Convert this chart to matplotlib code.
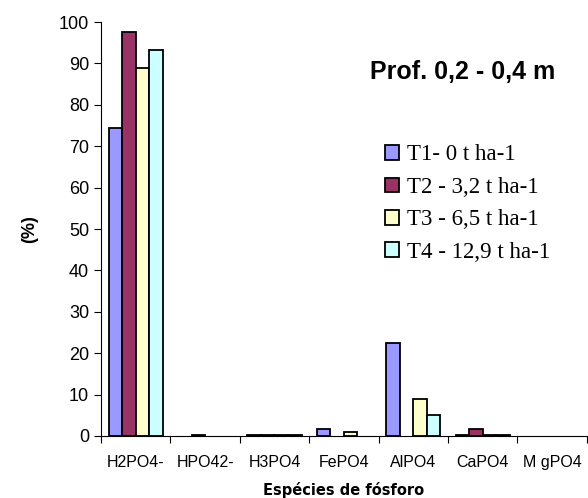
import matplotlib.pyplot as plt
import numpy as np

# species of phosphorus and share (%) for each treatment, depth 0.2 - 0.4 m
especies = ['H2PO4-', 'HPO42-', 'H3PO4', 'FePO4', 'AlPO4', 'CaPO4', 'M gPO4']
tratamentos = ['T1- 0 t ha-1', 'T2 - 3,2 t ha-1', 'T3 - 6,5 t ha-1', 'T4 - 12,9 t ha-1']
t1 = [74.3, 0.0, 0.3, 1.8, 22.5, 0.3, 0.0]
t2 = [97.5, 0.3, 0.3, 0.0, 0.0, 1.8, 0.0]
t3 = [89.0, 0.0, 0.3, 0.9, 9.0, 0.3, 0.0]
t4 = [93.2, 0.0, 0.3, 0.0, 5.1, 0.3, 0.0]
cores = ['#9999ff', '#993366', '#ffffcc', '#ccffff']

fig = plt.figure(figsize=(5.88, 4.98), dpi=100)
ax = fig.add_axes([0.1718, 0.1245, 0.826, 0.8313])

x = np.arange(len(especies))
w = 0.195
for k, (serie, cor, nome) in enumerate(zip([t1, t2, t3, t4], cores, tratamentos)):
    barras = ax.bar(x + (k - 1.5) * w, serie, w, color=cor, edgecolor='black',
                    linewidth=1.3, label=nome)
    # empty cells are not drawn at all
    for b, v in zip(barras, serie):
        if v == 0:
            b.set_visible(False)

ax.set_xlim(-0.5, len(especies) - 0.5)
ax.set_ylim(0, 100)
ax.set_yticks(range(0, 101, 10))
ax.tick_params(axis='y', labelsize=13, length=5, direction='out', width=0.8)
for lbl in ax.get_yticklabels():
    lbl.set_family('Liberation Sans')

ax.set_xticks(x)
ax.set_xticklabels(especies, fontsize=11.5, family='Liberation Sans')
ax.set_xticks(np.arange(-0.5, len(especies), 1), minor=True)
ax.tick_params(axis='x', which='major', length=0, pad=14)
ax.tick_params(axis='x', which='minor', length=5, width=0.8)

for s in ['top', 'right']:
    ax.spines[s].set_visible(False)
ax.spines['left'].set_linewidth(0.8)
ax.spines['bottom'].set_linewidth(0.8)

ax.set_ylabel('(%)', fontsize=13, fontweight='bold', family='Liberation Sans', labelpad=15)
ax.set_xlabel('Espécies de fósforo', fontsize=10.5, fontweight='bold',
              family='DejaVu Sans', labelpad=8)

fig.text(0.786, 0.855, 'Prof. 0,2 - 0,4 m', fontsize=18, fontweight='bold',
         family='Liberation Sans', ha='center', va='center')

leg = ax.legend(loc='upper left', bbox_to_anchor=(0.655, 0.71),
                bbox_transform=fig.transFigure, frameon=False,
                prop={'family': 'Liberation Serif', 'size': 16.5},
                handlelength=0.6, handleheight=0.6, handletextpad=0.35,
                labelspacing=0.5, borderpad=0, borderaxespad=0)

fig.savefig('out.png', dpi=100)
